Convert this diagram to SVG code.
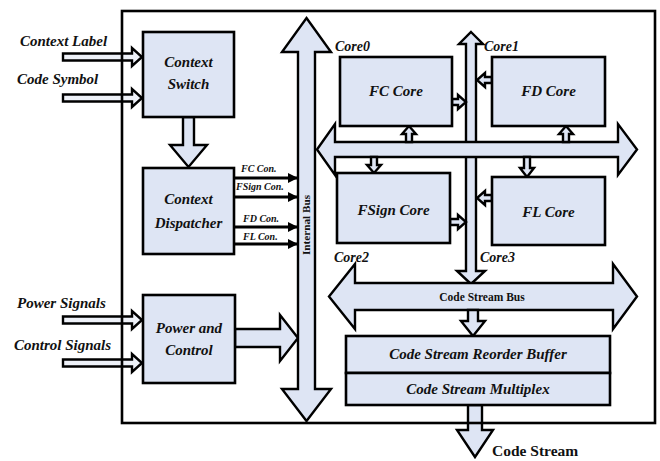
<svg xmlns="http://www.w3.org/2000/svg" width="660" height="461" viewBox="0 0 660 461">
  <style>
    .blk { fill: #dee5f4; stroke: #000; stroke-width: 2.6; }
    .hollow { fill: #dee5f4; stroke: #000; stroke-width: 2.4; stroke-linejoin: miter; }
    .thin { fill: #eef1f8; stroke: #000; stroke-width: 2.4; }
    .sig { stroke: #000; stroke-width: 3; fill: none; }
    .lbl { font-family: "Liberation Serif", "Times New Roman", serif; font-weight: bold; font-style: italic; fill: #111; }
    .up { font-family: "Liberation Serif", "Times New Roman", serif; font-weight: bold; fill: #111; }
    .box-t { font-size: 15px; text-anchor: middle; }
    .io-t { font-size: 15px; }
    .con-t { font-size: 10px; }
    .core-t { font-size: 14px; }
  </style>
  <defs>
    <marker id="head" markerUnits="userSpaceOnUse" markerWidth="12" markerHeight="12" refX="10" refY="6" orient="auto">
      <path d="M0,1 L10,6 L0,11 Z" fill="#000"/>
    </marker>
  </defs>

  <rect width="660" height="461" fill="#fff"/>

  <!-- external input arrows (drawn under the chip outline) -->
  <g id="inputs">
    <polygon class="thin" points="63,53.5 132,53.5 132,48 142,57 132,66 132,60.5 63,60.5"/>
    <polygon class="thin" points="63,94.5 132,94.5 132,89 142,98 132,107 132,101.5 63,101.5"/>
    <polygon class="thin" points="63,316.5 132,316.5 132,311 142,320 132,329 132,323.5 63,323.5"/>
    <polygon class="thin" points="63,359.5 132,359.5 132,354 142,363 132,372 132,366.5 63,366.5"/>
    <text class="lbl io-t" x="20" y="46">Context Label</text>
    <text class="lbl io-t" x="17" y="84">Code Symbol</text>
    <text class="lbl io-t" x="17" y="308">Power Signals</text>
    <text class="lbl io-t" x="14" y="350">Control Signals</text>
  </g>

  <!-- code stream output arrow -->
  <g id="output">
    <polygon class="hollow" points="468,405 482,405 482,430 493,430 475,457 457,430 468,430"/>
    <text class="up" x="492" y="456" font-size="15.5">Code Stream</text>
  </g>

  <!-- chip outline -->
  <rect id="chip" x="122" y="11" width="533" height="412" fill="none" stroke="#000" stroke-width="2.6"/>

  <!-- buses and connectors -->
  <g id="connectors">
    <!-- context switch to dispatcher -->
    <polygon class="hollow" points="183,117 194,117 194,145 207,145 188.5,167 170,145 183,145"/>
    <!-- power and control to internal bus -->
    <polygon class="hollow" points="235,329 280,329 280,315 298,338 280,361 280,347 235,347"/>
    <!-- dispatcher control lines -->
    <line class="sig" x1="234" y1="178" x2="298" y2="178" marker-end="url(#head)"/>
    <line class="sig" x1="234" y1="197" x2="298" y2="197" marker-end="url(#head)"/>
    <line class="sig" x1="234" y1="227" x2="298" y2="227" marker-end="url(#head)"/>
    <line class="sig" x1="234" y1="244" x2="298" y2="244" marker-end="url(#head)"/>
    <text class="lbl con-t" x="241" y="172">FC Con.</text>
    <text class="lbl con-t" x="236" y="190">FSign Con.</text>
    <text class="lbl con-t" x="243" y="222">FD Con.</text>
    <text class="lbl con-t" x="243" y="240">FL Con.</text>

    <!-- internal bus -->
    <polygon class="hollow" points="306.5,18 331,52 315,52 315,389 331,389 306.5,421 282,389 298,389 298,52 282,52"/>
    <text class="up" font-size="10" text-anchor="middle" transform="translate(310,225) rotate(-90)" textLength="60" lengthAdjust="spacingAndGlyphs">Internal Bus</text>

    <!-- vertical core bus -->
    <polygon class="hollow" points="471,32 483,44 476,44 476,271 485,271 471,284 457,271 466,271 466,44 459,44"/>
    <!-- horizontal core bus -->
    <polygon class="hollow" points="317,149.5 335,124 335,142 618,142 618,124 637,149.5 618,175 618,157 335,157 335,175"/>

    <!-- bus to core taps -->
    <polygon class="hollow" points="406,142 412,142 412,134 416,134 409,126 402,134 406,134"/>
    <polygon class="hollow" points="563,142 569,142 569,134 573,134 566,126 559,134 563,134"/>
    <polygon class="hollow" points="371,157 377,157 377,165 381,165 374,173 367,165 371,165"/>
    <polygon class="hollow" points="524,157 530,157 530,168 534,168 527,177 520,168 524,168"/>
    <!-- core to vertical bus taps -->
    <polygon class="hollow" points="452,99 458,99 458,95 466,102 458,109 458,105 452,105"/>
    <polygon class="hollow" points="492,77 485,77 485,73 477,80 485,87 485,83 492,83"/>
    <polygon class="hollow" points="450,219 458,219 458,215 466,222 458,229 458,225 450,225"/>
    <polygon class="hollow" points="492,195 485,195 485,191 477,198 485,205 485,201 492,201"/>

    <!-- code stream bus -->
    <polygon class="hollow" points="329,296.5 355,264 355,283 613,283 613,264 637,296.5 613,329 613,310 355,310 355,329"/>
    <text class="up" x="482" y="301" font-size="11.5" text-anchor="middle">Code Stream Bus</text>
    <!-- bus to reorder buffer -->
    <polygon class="hollow" points="468,310 478,310 478,321 485,321 473,336 461,321 468,321"/>

    <!-- core labels -->
    <text class="lbl core-t" x="335" y="51">Core0</text>
    <text class="lbl core-t" x="484" y="51">Core1</text>
    <text class="lbl core-t" x="334" y="262">Core2</text>
    <text class="lbl core-t" x="480" y="262">Core3</text>
  </g>

  <!-- blocks -->
  <g id="context-switch">
    <rect class="blk" x="143" y="32" width="91" height="85"/>
    <text class="lbl box-t" x="188.5" y="67">Context</text>
    <text class="lbl box-t" x="188.5" y="89">Switch</text>
  </g>
  <g id="context-dispatcher">
    <rect class="blk" x="143" y="168" width="91" height="86"/>
    <text class="lbl box-t" x="188.5" y="204">Context</text>
    <text class="lbl box-t" x="188.5" y="228">Dispatcher</text>
  </g>
  <g id="power-control">
    <rect class="blk" x="143" y="295" width="92" height="88"/>
    <text class="lbl box-t" x="189" y="333">Power and</text>
    <text class="lbl box-t" x="189" y="355">Control</text>
  </g>
  <g id="fc-core">
    <rect class="blk" x="340" y="57" width="112" height="69"/>
    <text class="lbl box-t" x="396" y="96">FC Core</text>
  </g>
  <g id="fd-core">
    <rect class="blk" x="492" y="57" width="113" height="69"/>
    <text class="lbl box-t" x="548.5" y="96">FD Core</text>
  </g>
  <g id="fsign-core">
    <rect class="blk" x="337" y="173" width="113" height="70"/>
    <text class="lbl box-t" x="393.5" y="215">FSign Core</text>
  </g>
  <g id="fl-core">
    <rect class="blk" x="492" y="177" width="113" height="68"/>
    <text class="lbl box-t" x="548.5" y="217">FL Core</text>
  </g>
  <g id="reorder-buffer">
    <rect class="blk" x="346" y="336" width="264" height="37"/>
    <text class="lbl box-t" x="478" y="359">Code Stream Reorder Buffer</text>
  </g>
  <g id="multiplex">
    <rect class="blk" x="346" y="373" width="264" height="32"/>
    <text class="lbl box-t" x="478" y="394">Code Stream Multiplex</text>
  </g>
</svg>
